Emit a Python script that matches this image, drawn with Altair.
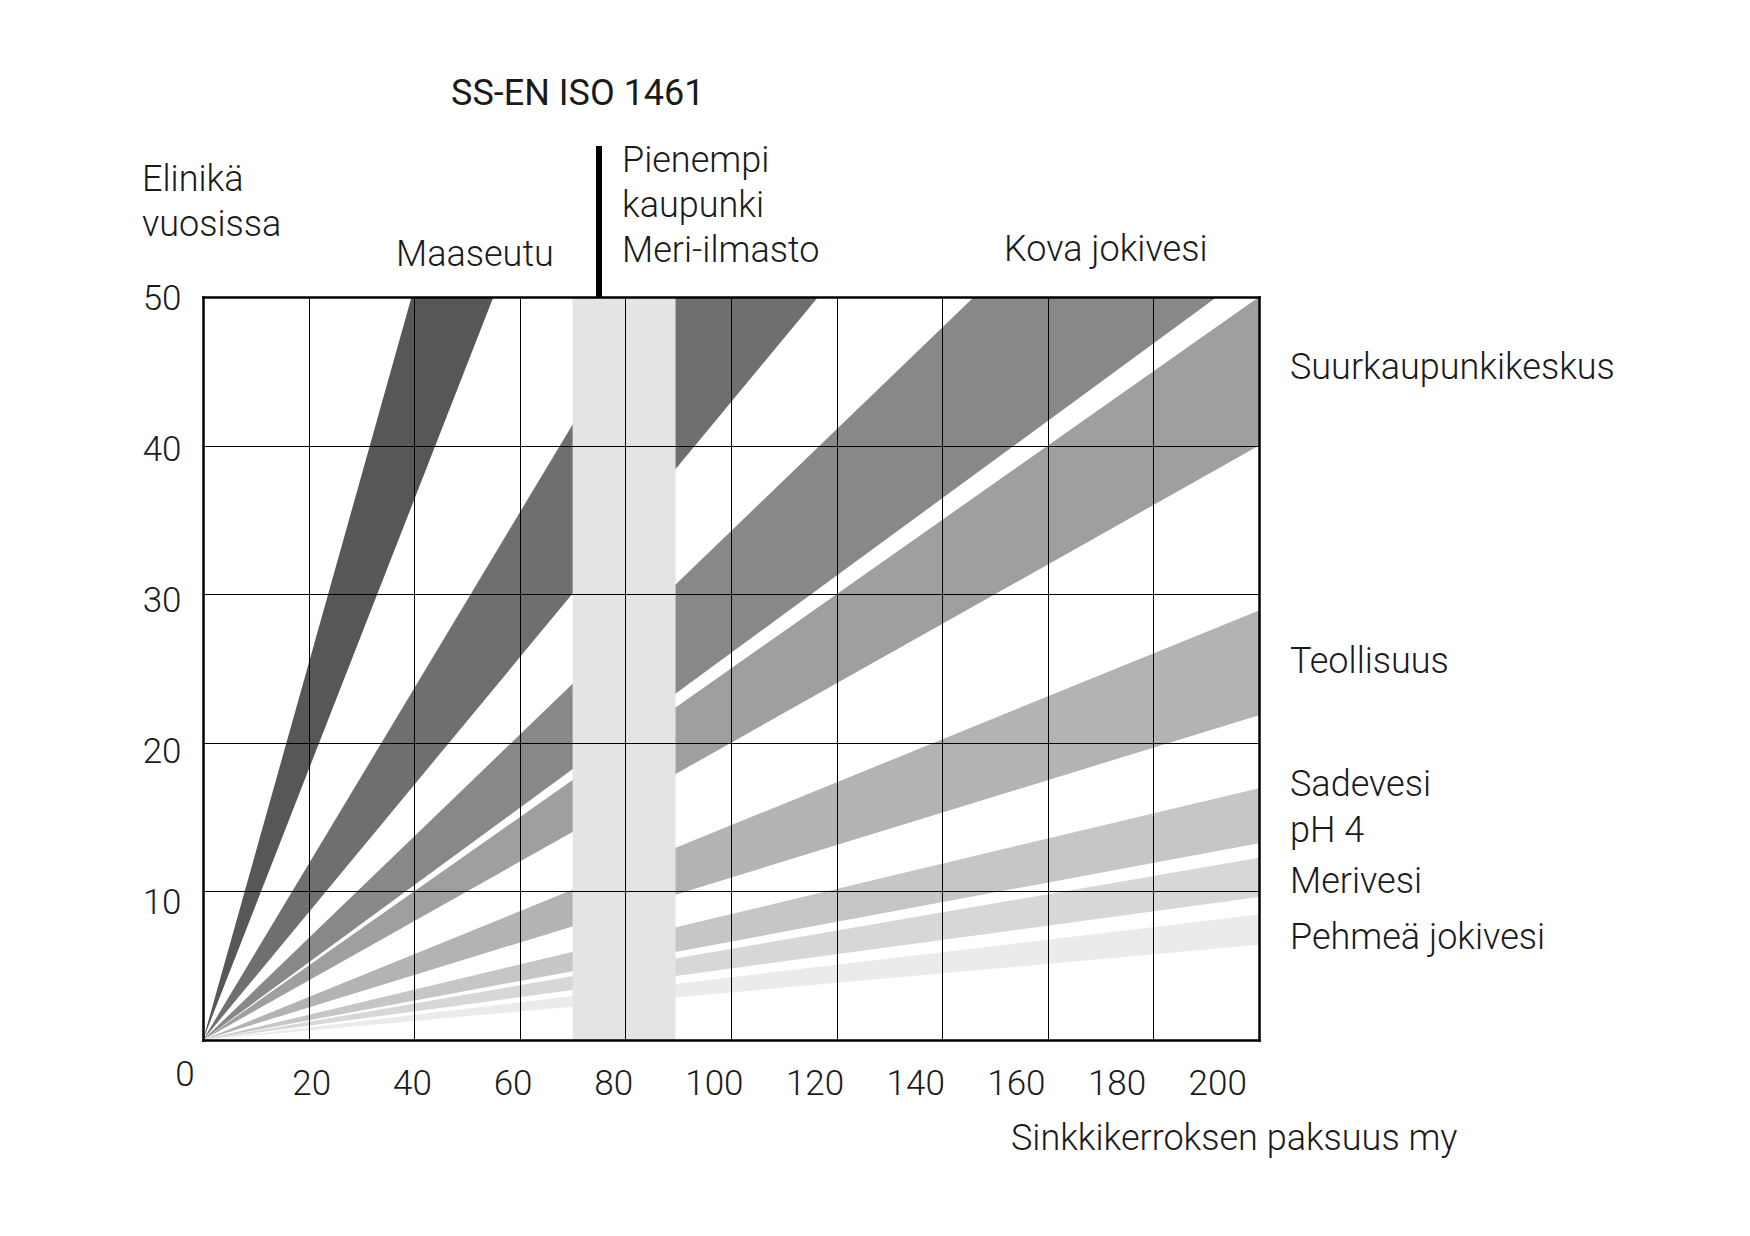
import altair as alt
import pandas as pd

# ---- data ----
band_names = ["Maaseutu", "Pienempi kaupunki / Meri-ilmasto", "Kova jokivesi",
              "Suurkaupunkikeskus", "Teollisuus", "Sadevesi pH 4", "Merivesi",
              "Pehmeä jokivesi"]
# zinc corrosion rate (µm / year) giving the upper and lower edge of each band
rate_min = [0.79, 1.69, 2.92, 4.0, 6.92, 11.8, 16.3, 23.7]
rate_max = [1.10, 2.33, 3.84, 5.0, 9.15, 15.1, 20.8, 31.2]
band_colors = ["#575757", "#6f6f6f", "#888888", "#9f9f9f",
               "#b3b3b3", "#c6c6c6", "#d7d7d7", "#ebebeb"]
thickness_range = [0, 200]
life_range = [0, 50]
x_ticks = [20, 40, 60, 80, 100, 120, 140, 160, 180, 200]
y_ticks = [10, 20, 30, 40, 50]
column_start = [70]
column_end = [89.5]
iso_thickness = [75]

# ---- tables ----
rows = []
for name, lo, hi in zip(band_names, rate_min, rate_max):
    for t in thickness_range:
        rows.append({"band": name, "t": t, "rate_min": lo, "rate_max": hi})
bands_df = pd.DataFrame(rows)
column_df = pd.DataFrame({"start": column_start, "end": column_end,
                          "lo": [life_range[0]], "hi": [life_range[1]]})
iso_df = pd.DataFrame({"t": iso_thickness, "life": [life_range[1]]})

W, H = 1056, 743
FONT = "Roboto"
FS = 36
TXT = "#1a1a1a"

x_scale = alt.Scale(domain=thickness_range, nice=False, zero=False)
y_scale = alt.Scale(domain=life_range, nice=False, zero=False)

frame = dict(domain=True, domainColor="black", domainWidth=2.5, domainCap="square",
             ticks=False, title=None, zindex=1)

bands = alt.Chart(bands_df).transform_calculate(
    top="datum.t / datum.rate_min", bot="datum.t / datum.rate_max"
).mark_area(clip=True).encode(
    x=alt.X("t:Q", scale=x_scale,
            axis=alt.Axis(orient="top", values=x_ticks, grid=True, gridColor="black",
                          gridWidth=1, gridOpacity=1, labels=False, **frame)),
    y=alt.Y("top:Q", scale=y_scale, stack=None,
            axis=alt.Axis(orient="right", values=y_ticks, grid=True, gridColor="black",
                          gridWidth=1, gridOpacity=1, labels=False, **frame)),
    y2="bot:Q",
    color=alt.Color("band:N", scale=alt.Scale(domain=band_names, range=band_colors),
                    legend=None),
)

column = alt.Chart(column_df).mark_rect(color="#e4e4e4").encode(
    x=alt.X("start:Q", scale=x_scale, axis=None),
    x2="end:Q",
    y=alt.Y("lo:Q", scale=y_scale, axis=None),
    y2="hi:Q",
)

iso = alt.Chart(iso_df).mark_rule(color="black", strokeWidth=6, clip=False).encode(
    x=alt.X("t:Q", scale=x_scale, axis=None),
    y=alt.Y("life:Q", scale=y_scale, axis=None),
    y2=alt.value(-151),
)

lab = dict(labelFont=FONT, labelFontSize=35, labelFontWeight=300, labelColor=TXT,
           labelFlush=False, labelOverlap=False, labelBound=False, grid=False)

x_labels = alt.Chart(pd.DataFrame({"v": x_ticks})).mark_point(opacity=0).encode(
    x=alt.X("v:Q", scale=alt.Scale(domain=[-1.5, 208.3], nice=False, zero=False),
            axis=alt.Axis(orient="bottom", values=x_ticks, labelPadding=26, **lab, **frame)),
)
y_labels = alt.Chart(pd.DataFrame({"v": y_ticks})).mark_point(opacity=0).encode(
    y=alt.Y("v:Q", scale=alt.Scale(domain=[0.94, 50.07], nice=False, zero=False),
            axis=alt.Axis(orient="left", values=y_ticks, labelPadding=22, **lab, **frame)),
)


def txt(s, x, y, weight=300, align="left", size=FS):
    return alt.Chart(pd.DataFrame({"s": [s]})).mark_text(
        align=align, baseline="middle", font=FONT, fontSize=size, fontWeight=weight,
        color=TXT
    ).encode(x=alt.value(x), y=alt.value(y), text="s:N")


texts = [
    txt("SS-EN ISO 1461", 248, -203, weight=400, size=36),
    txt("Elinikä", -61, -117),
    txt("vuosissa", -61, -72),
    txt("Maaseutu", 193, -42),
    txt("Pienempi", 419, -136),
    txt("kaupunki", 419, -91),
    txt("Meri-ilmasto", 419, -46),
    txt("Kova jokivesi", 801, -47),
    txt("Suurkaupunkikeskus", 1087, 71),
    txt("Teollisuus", 1087, 365),
    txt("Sadevesi", 1087, 488),
    txt("pH 4", 1087, 534),
    txt("Merivesi", 1087, 585),
    txt("Pehmeä jokivesi", 1087, 641),
    txt("Sinkkikerroksen paksuus my", 808, 842),
    txt("0", -18, 778, align="center", size=35),
]

chart = alt.layer(bands, column, iso, x_labels, y_labels, *texts).resolve_scale(
    x="independent", y="independent"
).properties(
    width=W, height=H,
    padding={"left": 195, "top": 289, "right": 483, "bottom": 188},
    autosize=alt.AutoSizeParams(type="none"),
    background="white",
).configure_view(stroke=None)

chart.save("out.html", embed_options={"renderer": "svg", "actions": False})
